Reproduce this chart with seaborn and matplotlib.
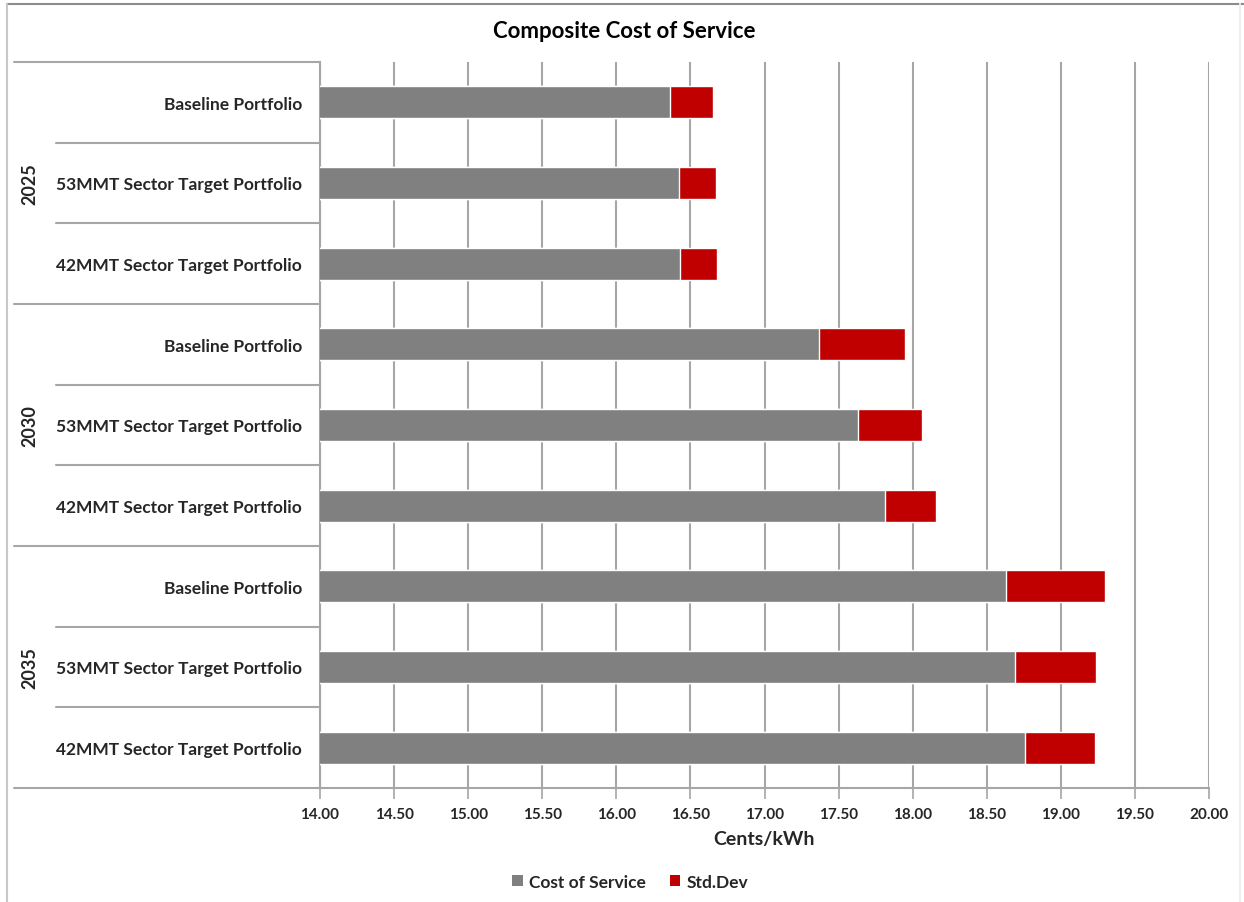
import matplotlib
matplotlib.use("Agg")
import matplotlib.pyplot as plt
import matplotlib.transforms as mtransforms
from matplotlib.patches import Patch
import numpy as np
import pandas as pd
import seaborn as sns

# Data
years = ["2025", "2030", "2035"]
portfolios = ["Baseline Portfolio", "53MMT Sector Target Portfolio", "42MMT Sector Target Portfolio"]
cost_of_service = [16.36, 16.42, 16.43,
                   17.37, 17.63, 17.81,
                   18.63, 18.69, 18.76]
std_dev = [0.29, 0.25, 0.25,
           0.58, 0.43, 0.35,
           0.67, 0.55, 0.47]
x_ticks = [14.0, 14.5, 15.0, 15.5, 16.0, 16.5, 17.0, 17.5, 18.0, 18.5, 19.0, 19.5, 20.0]

GRAY = "#808080"
RED = "#C00000"
LINE = "#a6a6a6"

rows = [f"{y} | {p}" for y in years for p in portfolios]
df = pd.DataFrame({
    "row": rows,
    "portfolio": [p for _ in years for p in portfolios],
    "cost": cost_of_service,
    "std": std_dev,
})
df["total"] = df["cost"] + df["std"]

sns.set_theme(style="white")
plt.rcParams["font.family"] = ["Lato", "DejaVu Sans"]

fig = plt.figure(figsize=(12.44, 9.03), dpi=100)
ax = fig.add_axes([320 / 1244, 1 - 789 / 903, (1209 - 320) / 1244, (789 - 63) / 903])

# Stacked horizontal bars: full extent in red, cost portion overlaid in gray
sns.barplot(data=df, x="total", y="row", order=rows, color=RED, width=0.4,
            saturation=1, orient="h", ax=ax, zorder=3)
sns.barplot(data=df, x="cost", y="row", order=rows, color=GRAY, width=0.4,
            saturation=1, orient="h", ax=ax, zorder=4)

ax.set_xlim(14, 20)
ax.set_ylim(len(rows) - 0.5, -0.5)
ax.set_xticks(x_ticks)
ax.set_xticklabels([f"{t:.2f}" for t in x_ticks], fontsize=11, fontweight="bold", color="#262626")
ax.xaxis.grid(True, color=LINE, linewidth=1.5, zorder=0)
ax.yaxis.grid(False)
ax.set_axisbelow(True)
ax.tick_params(axis="x", which="major", direction="out", length=8, width=1.2,
               color=LINE, bottom=True, pad=6)
ax.tick_params(axis="y", length=0, pad=13)
ax.set_yticks(range(len(rows)))
ax.set_yticklabels(df["portfolio"], fontsize=12.5, fontweight="bold", color="#262626")

for side in ["top", "right"]:
    ax.spines[side].set_visible(False)
for side in ["left", "bottom"]:
    ax.spines[side].set_color(LINE)
    ax.spines[side].set_linewidth(1.5)

ax.set_xlabel("Cents/kWh", fontsize=14, fontweight="bold", color="#262626", labelpad=6)
ax.set_ylabel("")

# Category separator lines and year group labels in the label area
trans = mtransforms.blended_transform_factory(ax.transAxes, ax.transData)
outer_x = (14 - 320) / 889
inner_x = (56 - 320) / 889
for yb in [-0.5, 2.5, 5.5, 8.5]:
    ax.plot([outer_x, 0], [yb, yb], transform=trans, color=LINE, lw=1.5, clip_on=False)
for yb in [0.5, 1.5, 3.5, 4.5, 6.5, 7.5]:
    ax.plot([inner_x, 0], [yb, yb], transform=trans, color=LINE, lw=1.5, clip_on=False)
for i, yr in enumerate(years):
    ax.text((30 - 320) / 889, 3 * i + 1, yr, transform=trans, rotation=90,
            ha="center", va="center", fontsize=13, fontweight="bold", color="#262626")

fig.text(624 / 1244, 1 - 32 / 903, "Composite Cost of Service", ha="center", va="center",
         fontsize=16, fontweight="bold", color="#000000")

handles = [Patch(facecolor=GRAY, edgecolor="none", label="Cost of Service"),
           Patch(facecolor=RED, edgecolor="none", label="Std.Dev")]
fig.legend(handles=handles, loc="center", bbox_to_anchor=(630 / 1244, 1 - 883 / 903),
           ncol=2, frameon=False, handlelength=0.6, handleheight=0.6,
           handletextpad=0.35, columnspacing=1.4, prop={"weight": "bold", "size": 12.5})

# Outer chart frame
fig.add_artist(plt.Line2D([7 / 1244, 1], [1 - 5 / 903, 1 - 5 / 903], transform=fig.transFigure,
                          color="#8c8c8c", lw=1.5))
fig.add_artist(plt.Line2D([7 / 1244, 7 / 1244], [0, 1 - 5 / 903], transform=fig.transFigure,
                          color="#c8c8c8", lw=1.5))
fig.add_artist(plt.Line2D([1240 / 1244, 1240 / 1244], [0, 1 - 5 / 903], transform=fig.transFigure,
                          color="#eeeeee", lw=1.5))

fig.savefig("out.png", dpi=100)
